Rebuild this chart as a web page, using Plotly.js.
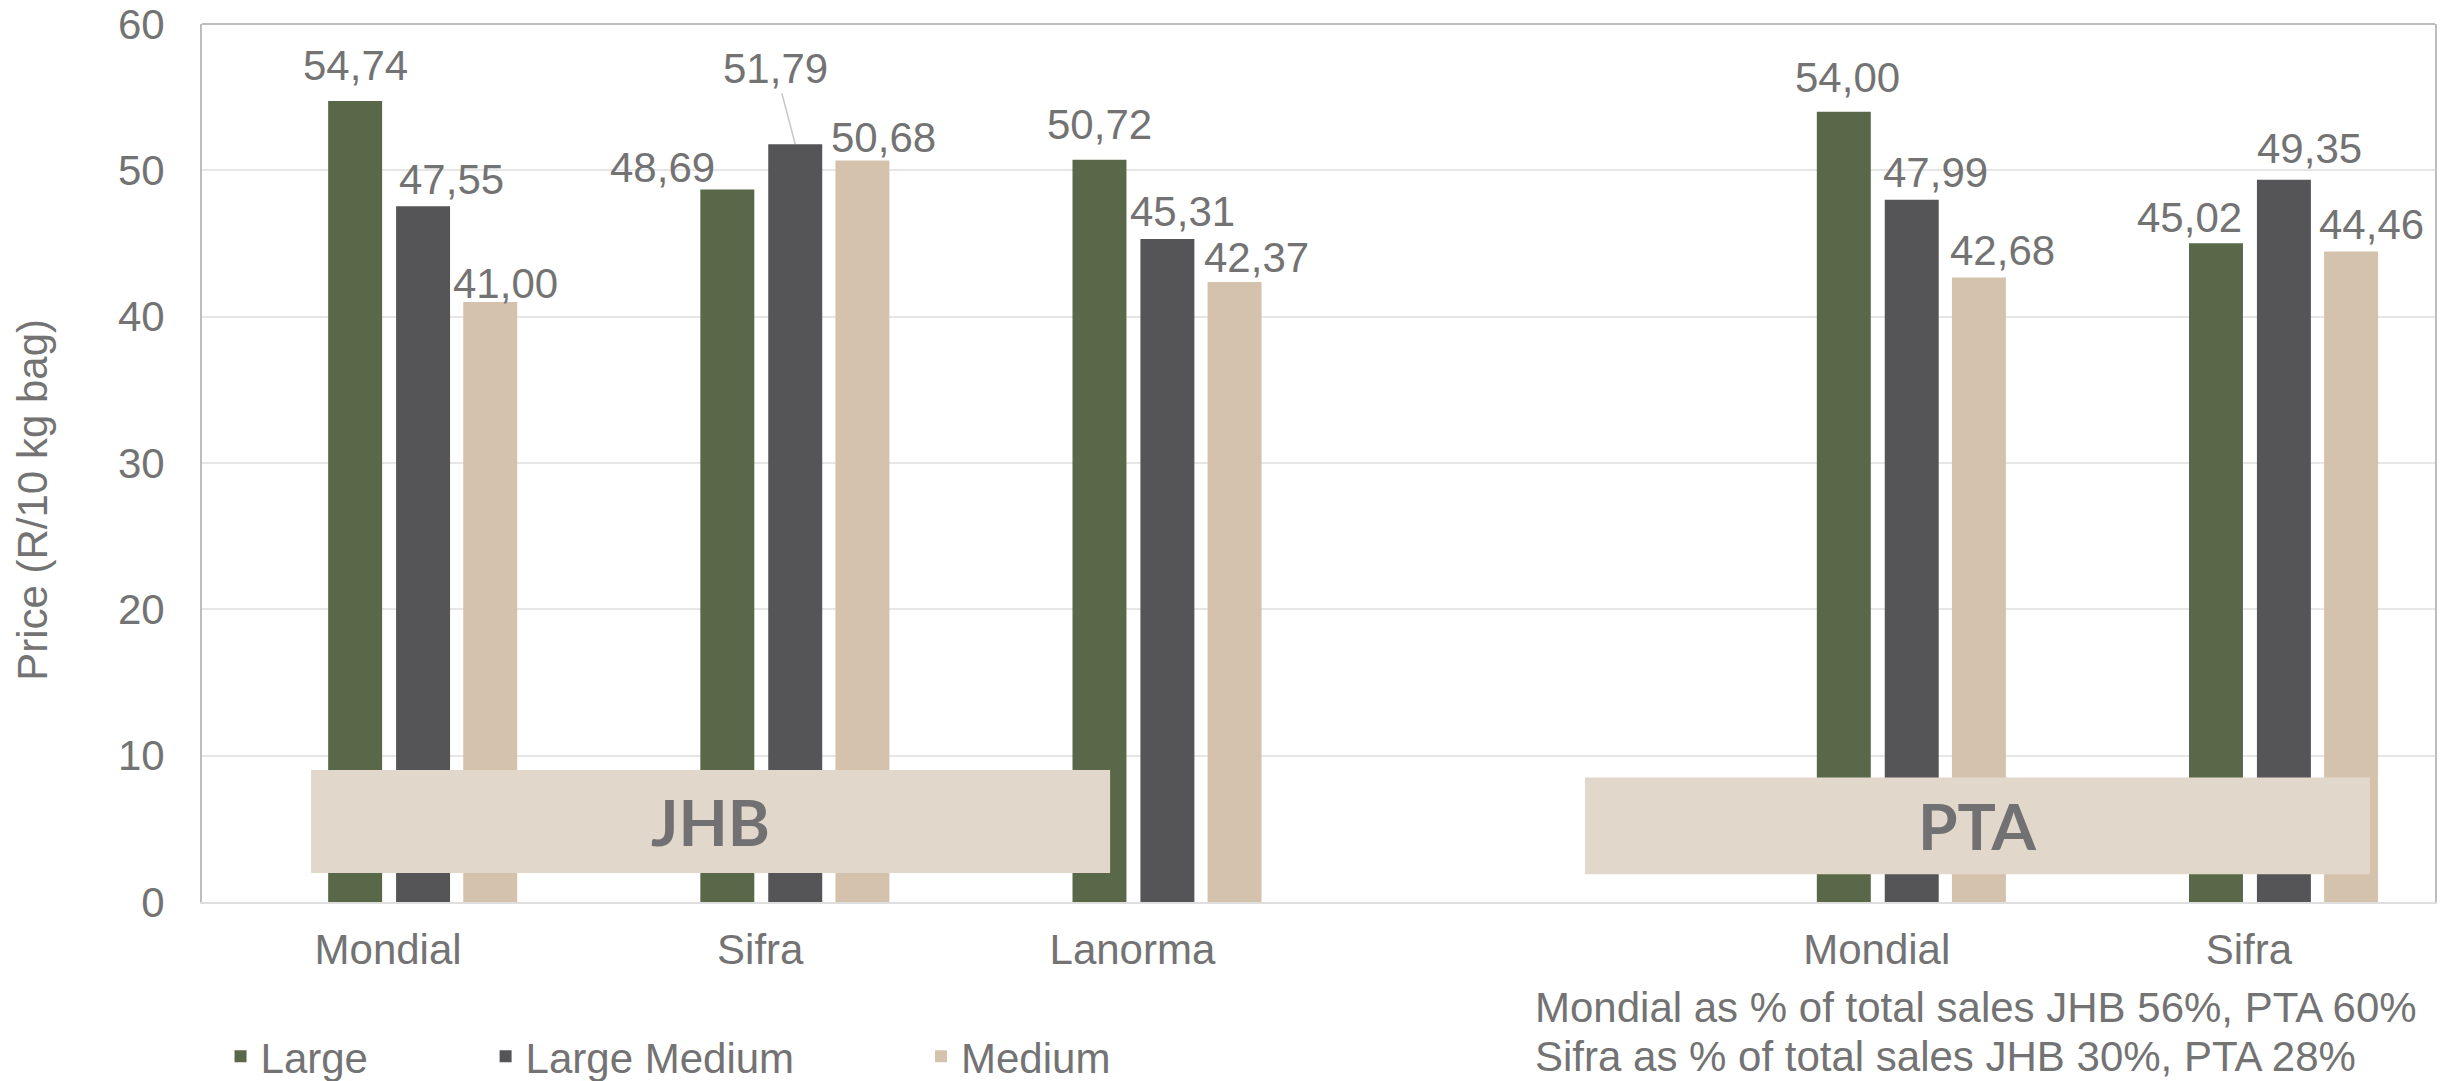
<!DOCTYPE html>
<html>
<head>
<meta charset="utf-8">
<script src="https://cdn.plot.ly/plotly-3.0.1.min.js"></script>
<style>
  html, body { margin: 0; padding: 0; background: #ffffff; }
  #chart { width: 2458px; height: 1081px; }
</style>
</head>
<body>
<div id="chart"></div>
<script>
// ---------------- DATA ----------------
const markets = ['JHB', 'JHB', 'JHB', 'PTA', 'PTA'];
const cultivars = ['Mondial', 'Sifra', 'Lanorma', 'Mondial', 'Sifra'];
const seriesNames = ['Large', 'Large Medium', 'Medium'];
const large = [54.74, 48.69, 50.72, 54.00, 45.02];
const largeMedium = [47.55, 51.79, 45.31, 47.99, 49.35];
const medium = [41.00, 50.68, 42.37, 42.68, 44.46];
const yTitle = 'Price (R/10 kg bag)';
const shareNotes = [
  'Mondial as % of total sales JHB 56%, PTA 60%',
  'Sifra as % of total sales JHB 30%, PTA 28%'
];

// ---------------- STYLE / LAYOUT ----------------
const TXT = '#737373';
const FONT = 'Liberation Sans, Arial, sans-serif';
const seriesValues = [large, largeMedium, medium];
const barStyle = [
  { color: '#596848', offset: -0.161 },
  { color: '#555557', offset: 0.0215 },
  { color: '#d4c2ad', offset: 0.202 }
];
const BAR_W = 0.145;

// slot positions: one empty slot between markets
const slots = [];
(function () {
  let s = 0;
  markets.forEach((m, i) => {
    if (i > 0 && m !== markets[i - 1]) s++;
    slots.push(s);
    s++;
  });
})();

// label placement (px): [dx from bar centre, gap between bar top and baseline]
const labelShift = [
  [[0, 20], [-64.5, 7], [0, 20], [4, 19], [-26, 11]],
  [[28, 12], null, [15.5, 12], [24, 12], [26, 16]],
  [[15, 4], [21, 8], [22, 9], [24, 12], [20, 12]]
];
const leader = { ax: -20, ay: -76 };

const marketBoxes = [
  { x0: -0.207, x1: 1.94, y0: 1.98, y1: 9.02 },
  { x0: 3.216, x1: 5.325, y0: 1.9, y1: 8.5 }
];
const marketNames = ['JHB', 'PTA'];

const fmt = v => v.toFixed(2).replace('.', ',');

const legendIds = ['legend', 'legend2', 'legend3'];
const legendX = [0.0083, 0.127, 0.322];

const traces = seriesValues.map((vals, k) => ({
  type: 'bar',
  name: seriesNames[k],
  x: slots,
  y: vals,
  width: BAR_W,
  offset: barStyle[k].offset,
  marker: { color: barStyle[k].color, line: { width: 0 } },
  legend: legendIds[k],
  hoverinfo: 'name+y'
}));

const annotations = [];
seriesValues.forEach((vals, k) => {
  vals.forEach((v, i) => {
    const xc = slots[i] + barStyle[k].offset + BAR_W / 2;
    const sh = labelShift[k][i];
    if (sh) {
      annotations.push({
        x: xc, y: v, xref: 'x', yref: 'y', text: fmt(v), showarrow: false,
        xanchor: 'center', yanchor: 'middle', xshift: sh[0], yshift: sh[1] + 15,
        font: { family: FONT, size: 42, color: TXT }
      });
    } else {
      annotations.push({
        x: xc, y: v, xref: 'x', yref: 'y', text: fmt(v), showarrow: true,
        arrowhead: 0, arrowwidth: 1.5, arrowcolor: '#c6c6c6', standoff: 0,
        ax: leader.ax, ay: leader.ay,
        font: { family: FONT, size: 42, color: TXT }
      });
    }
  });
});

const shapes = [];
marketBoxes.forEach((b, j) => {
  shapes.push({
    type: 'rect', xref: 'x', yref: 'y', x0: b.x0, x1: b.x1, y0: b.y0, y1: b.y1,
    fillcolor: '#e2d7cb', line: { width: 0 }, layer: 'above'
  });
  annotations.push({
    x: (b.x0 + b.x1) / 2, y: (b.y0 + b.y1) / 2, xref: 'x', yref: 'y',
    text: '<b>' + marketNames[j] + '</b>', showarrow: false,
    xanchor: 'center', yanchor: 'middle',
    font: { family: 'Lato, Open Sans, sans-serif', size: 64, color: '#717073' }
  });
});
// top border of plot area
shapes.push({
  type: 'line', xref: 'paper', yref: 'paper', x0: 0, x1: 1, y0: 1, y1: 1,
  line: { color: '#bdbdbd', width: 2 }, layer: 'below'
});

// y-axis title
annotations.push({
  x: -0.0757, y: 0.458, xref: 'paper', yref: 'paper', text: yTitle,
  textangle: -90, showarrow: false, xanchor: 'center', yanchor: 'middle',
  font: { family: FONT, size: 42, color: TXT }
});
// share notes
shareNotes.forEach((t, i) => {
  annotations.push({
    x: 0.596, y: i === 0 ? -0.1202 : -0.176, xref: 'paper', yref: 'paper',
    text: t, showarrow: false, xanchor: 'left', yanchor: 'middle', align: 'left',
    font: { family: FONT, size: 42, color: TXT }
  });
});

const layout = {
  width: 2458, height: 1081,
  margin: { l: 202, r: 23, t: 24, b: 179, autoexpand: false },
  paper_bgcolor: '#ffffff', plot_bgcolor: '#ffffff',
  barmode: 'overlay',
  showlegend: true,
  font: { family: FONT, size: 42, color: TXT },
  xaxis: {
    type: 'linear', range: [-0.5, 5.5],
    tickmode: 'array', tickvals: slots, ticktext: cultivars,
    showgrid: false, zeroline: false,
    showline: true, linecolor: '#dedede', linewidth: 2,
    ticks: '', ticklabelstandoff: 10,
    tickfont: { family: FONT, size: 42, color: TXT },
    fixedrange: true
  },
  yaxis: {
    range: [0, 60], dtick: 10, tick0: 0,
    showgrid: true, gridcolor: '#e6e6e6', gridwidth: 2,
    zeroline: false,
    showline: true, mirror: true, linecolor: '#bdbdbd', linewidth: 2,
    ticks: '', ticklabelstandoff: 27,
    tickfont: { family: FONT, size: 42, color: TXT },
    fixedrange: true
  },
  shapes: shapes,
  annotations: annotations
};
legendIds.forEach((id, k) => {
  layout[id] = {
    x: legendX[k], xanchor: 'left', y: -0.176, yanchor: 'middle',
    orientation: 'h', bgcolor: 'rgba(0,0,0,0)',
    font: { family: FONT, size: 42, color: TXT },
    itemclick: false, itemdoubleclick: false
  };
});

Plotly.newPlot('chart', traces, layout, { displayModeBar: false, staticPlot: true });
</script>
</body>
</html>
